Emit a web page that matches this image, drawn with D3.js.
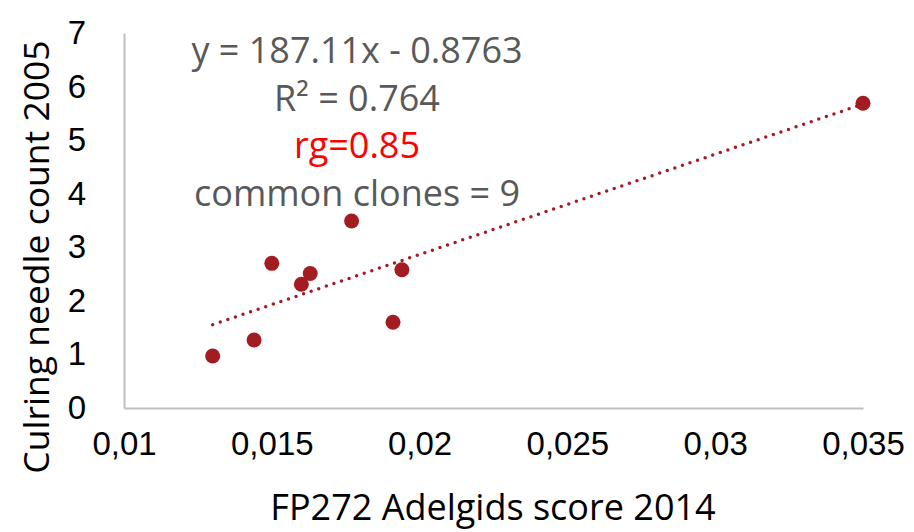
<!DOCTYPE html>
<html>
<head>
<meta charset="utf-8">
<script src="https://cdn.jsdelivr.net/npm/d3@7"></script>
<style>
  body { margin: 0; background: #fff; }
  svg { font-family: "Open Sans", "Noto Sans", sans-serif; }
</style>
</head>
<body>
<svg width="914" height="532"></svg>
<script>
const svg = d3.select("svg"),
      width = +svg.attr("width"),
      height = +svg.attr("height");

// FP272 Adelgids score 2014 vs culring needle count 2005
const adelgidScore = [0.0130, 0.0144, 0.0150, 0.0160, 0.0163, 0.0177, 0.0191, 0.0194, 0.0350];
const needleCount  = [0.97, 1.27, 2.70, 2.31, 2.51, 3.49, 1.60, 2.58, 5.69];
const xTicks = [0.01, 0.015, 0.02, 0.025, 0.03, 0.035];
const yTicks = [0, 1, 2, 3, 4, 5, 6, 7];
const slope = 187.11, intercept = -0.8763;
const notes = ["y = 187.11x - 0.8763", "R² = 0.764", "rg=0.85", "common clones = 9"];

const points = adelgidScore.map((x, i) => ({x, y: needleCount[i]}));

const x = d3.scaleLinear().domain([0.01, 0.035]).range([124, 863]);
const y = d3.scaleLinear().domain([0, 7]).range([408, 33]);

const fmt = d => String(d).replace(".", ",");

// axes
const xAxis = svg.append("g")
  .attr("transform", `translate(0,${y(0)})`)
  .call(d3.axisBottom(x).tickValues(xTicks).tickFormat(fmt).tickSize(0).tickPadding(24));
xAxis.select(".domain").attr("stroke", "#bfbfbf").attr("stroke-width", 2);
xAxis.selectAll("text").attr("font-size", 33).attr("fill", "#000").attr("font-family", null);

const yAxis = svg.append("g")
  .attr("transform", `translate(${x(0.01)},0)`)
  .call(d3.axisLeft(y).tickValues(yTicks).tickFormat(d3.format("d")).tickSize(0).tickPadding(38));
yAxis.select(".domain").attr("stroke", "#bfbfbf").attr("stroke-width", 2);
yAxis.selectAll("text").attr("font-size", 33).attr("fill", "#000").attr("font-family", null);

// axis titles
svg.append("text")
  .attr("x", 493).attr("y", 520)
  .attr("text-anchor", "middle")
  .attr("font-size", 36)
  .text("FP272 Adelgids score 2014");

svg.append("text")
  .attr("transform", "translate(49,257) rotate(-90)")
  .attr("text-anchor", "middle")
  .attr("font-size", 35.5)
  .text("Culring needle count 2005");

// trendline
const xMin = d3.min(adelgidScore), xMax = d3.max(adelgidScore);
svg.append("line")
  .attr("x1", x(xMin)).attr("y1", y(slope * xMin + intercept))
  .attr("x2", x(xMax)).attr("y2", y(slope * xMax + intercept))
  .attr("stroke", "#a31c22")
  .attr("stroke-width", 3.5)
  .attr("stroke-linecap", "round")
  .attr("stroke-dasharray", "0 8");

// points
svg.append("g")
  .selectAll("circle")
  .data(points)
  .join("circle")
  .attr("cx", d => x(d.x))
  .attr("cy", d => y(d.y))
  .attr("r", 7.5)
  .attr("fill", "#a31c22");

// trendline label
svg.append("g")
  .selectAll("text")
  .data(notes)
  .join("text")
  .attr("x", 357)
  .attr("y", (d, i) => 63 + i * 47.5)
  .attr("text-anchor", "middle")
  .attr("font-size", 36)
  .attr("fill", (d, i) => i === 2 ? "#ff0000" : "#595959")
  .text(d => d);
</script>
</body>
</html>
